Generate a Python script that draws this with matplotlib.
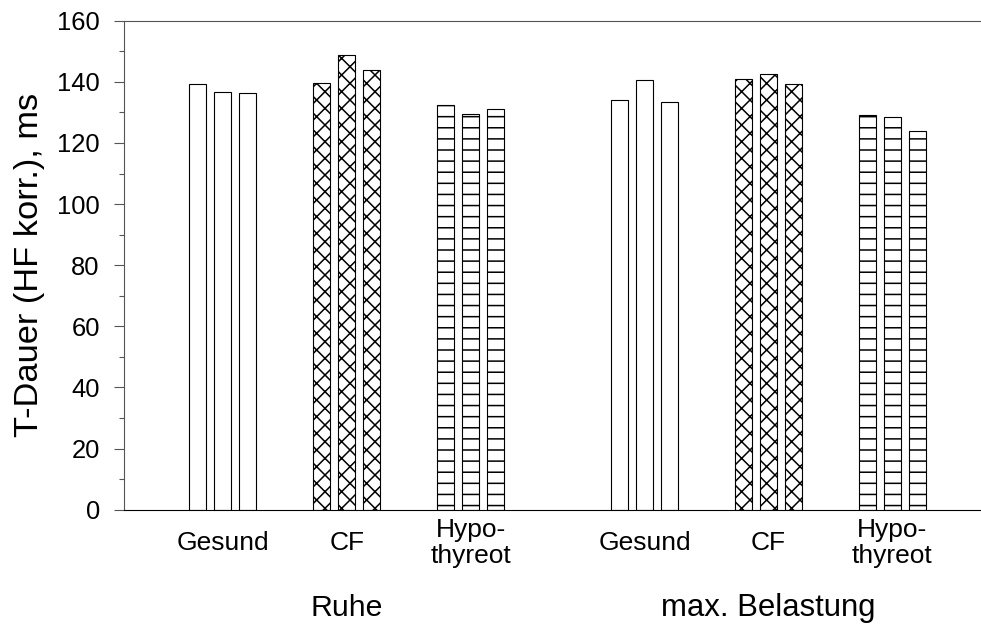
import matplotlib
matplotlib.use("Agg")
import matplotlib.pyplot as plt
import matplotlib.transforms as mtransforms
from matplotlib.ticker import MultipleLocator

plt.rcParams['font.family'] = ['Liberation Sans', 'DejaVu Sans']
plt.rcParams['hatch.linewidth'] = 0.55

# group names along the x axis
groups = ['Gesund', 'CF', 'Hypo-\nthyreot', 'Gesund', 'CF', 'Hypo-\nthyreot']
conditions = ['Ruhe', 'max. Belastung']

# three bars per group, T-Dauer in ms
ruhe_gesund = [139.2, 136.8, 136.3]
ruhe_cf = [139.5, 148.9, 144.0]
ruhe_hypo = [132.5, 129.6, 131.2]
belast_gesund = [134.2, 140.5, 133.3]
belast_cf = [140.8, 142.7, 139.2]
belast_hypo = [129.1, 128.5, 123.8]

values = [ruhe_gesund, ruhe_cf, ruhe_hypo, belast_gesund, belast_cf, belast_hypo]
hatches = ['', 'xxxx', '---', '', 'xxxx', '---']

centers = [0.8, 1.8, 2.8, 4.2, 5.2, 6.2]
bar_w = 0.137
step = 0.2016

fig = plt.figure(figsize=(981 / 200, 624 / 200), dpi=200)
ax = fig.add_axes([0.1261, 0.1832, 0.8739, 0.7836])

for c, vals, h in zip(centers, values, hatches):
    xs = [c + (i - 1) * step for i in range(len(vals))]
    ax.bar(xs, vals, width=bar_w, color='white', edgecolor='black',
           linewidth=0.4, hatch=h)

ax.set_xlim(0, 6.914)
ax.set_ylim(0, 160)
ax.yaxis.set_major_locator(MultipleLocator(20))
ax.yaxis.set_minor_locator(MultipleLocator(10))
ax.tick_params(axis='y', which='major', length=3.6, width=0.4, labelsize=9.2,
               pad=5, color='#555555')
ax.tick_params(axis='y', which='minor', length=1.8, width=0.4, color='#555555')
ax.set_xticks([])

ax.spines['right'].set_visible(False)
ax.spines['left'].set_color('#555555')
ax.spines['top'].set_color('#555555')
for s in ['left', 'top', 'bottom']:
    ax.spines[s].set_linewidth(0.4)

ax.set_ylabel('T-Dauer (HF korr.), ms', fontsize=12.4, labelpad=4.5)

trans = mtransforms.blended_transform_factory(ax.transData, ax.transAxes)
for c, g in zip(centers, groups):
    ax.text(c, -0.069, g, transform=trans, ha='center', va='center',
            fontsize=9.5, linespacing=1.1)

ax.text(centers[1], -0.201, conditions[0], transform=trans, ha='center',
        va='center', fontsize=10.9)
ax.text(centers[4], -0.201, conditions[1], transform=trans, ha='center',
        va='center', fontsize=11.2)

fig.savefig('out.png', dpi=200)
